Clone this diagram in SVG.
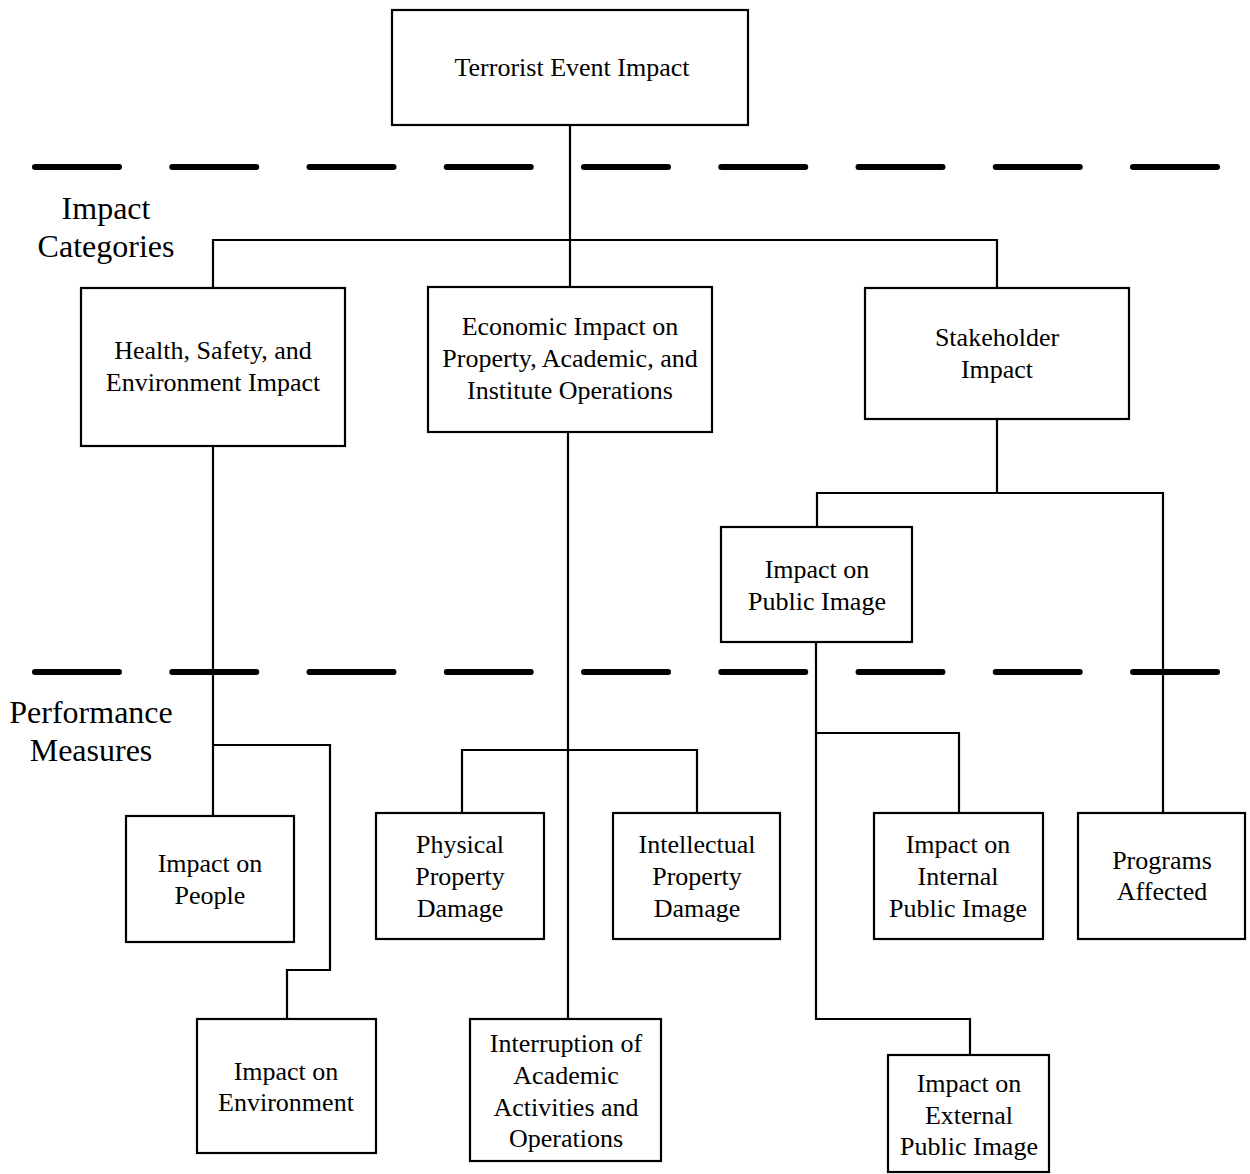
<svg xmlns="http://www.w3.org/2000/svg" width="1250" height="1174" viewBox="0 0 1250 1174">
<style>
.box{fill:#fff;stroke:#000;stroke-width:2.2}
.conn{fill:none;stroke:#000;stroke-width:2.2}
.sep{fill:none;stroke:#000;stroke-width:6;stroke-linecap:round;stroke-dasharray:84 53.25}
.t{font-family:"Liberation Serif","Times New Roman",serif;font-size:26px;fill:#000;text-anchor:middle}
.side{font-family:"Liberation Serif","Times New Roman",serif;font-size:32px;fill:#000;text-anchor:middle}
</style>
<rect width="1250" height="1174" fill="#fff"/>
<g id="separators">
<line class="sep" x1="35" y1="167" x2="1218" y2="167"/>
<line class="sep" x1="35" y1="672" x2="1218" y2="672"/>
</g>
<g id="side-labels">
<text class="side"><tspan x="106" y="219">Impact</tspan><tspan x="106" y="257">Categories</tspan></text>
<text class="side"><tspan x="91" y="723">Performance</tspan><tspan x="91" y="761">Measures</tspan></text>
</g>
<g id="connectors">
<path class="conn" d="M570,125 V287"/>
<path class="conn" d="M213,288 V240 H997 V288"/>
<path class="conn" d="M997,419 V493"/>
<path class="conn" d="M817,527 V493 H1163 V813"/>
<path class="conn" d="M213,446 V816"/>
<path class="conn" d="M213,745 H330 V970 H287 V1019"/>
<path class="conn" d="M568,432 V1019"/>
<path class="conn" d="M462,813 V750 H697 V813"/>
<path class="conn" d="M816,642 V1019 H970 V1055"/>
<path class="conn" d="M816,733 H959 V813"/>
</g>
<g id="node-top">
<rect class="box" x="392" y="10" width="356" height="115"/>
<text class="t" x="572" y="76">Terrorist Event Impact</text>
</g>
<g id="node-hse">
<rect class="box" x="81" y="288" width="264" height="158"/>
<text class="t"><tspan x="213" y="359">Health, Safety, and</tspan><tspan x="213" y="391">Environment Impact</tspan></text>
</g>
<g id="node-econ">
<rect class="box" x="428" y="287" width="284" height="145"/>
<text class="t"><tspan x="570" y="335">Economic Impact on</tspan><tspan x="570" y="367">Property, Academic, and</tspan><tspan x="570" y="399">Institute Operations</tspan></text>
</g>
<g id="node-stakeholder">
<rect class="box" x="865" y="288" width="264" height="131"/>
<text class="t"><tspan x="997" y="346">Stakeholder</tspan><tspan x="997" y="378">Impact</tspan></text>
</g>
<g id="node-public-image">
<rect class="box" x="721" y="527" width="191" height="115"/>
<text class="t"><tspan x="817" y="578">Impact on</tspan><tspan x="817" y="610">Public Image</tspan></text>
</g>
<g id="node-people">
<rect class="box" x="126" y="816" width="168" height="126"/>
<text class="t"><tspan x="210" y="872">Impact on</tspan><tspan x="210" y="904">People</tspan></text>
</g>
<g id="node-environment">
<rect class="box" x="197" y="1019" width="179" height="134"/>
<text class="t"><tspan x="286" y="1080">Impact on</tspan><tspan x="286" y="1111">Environment</tspan></text>
</g>
<g id="node-physical">
<rect class="box" x="376" y="813" width="168" height="126"/>
<text class="t"><tspan x="460" y="853">Physical</tspan><tspan x="460" y="885">Property</tspan><tspan x="460" y="917">Damage</tspan></text>
</g>
<g id="node-intellectual">
<rect class="box" x="613" y="813" width="167" height="126"/>
<text class="t"><tspan x="697" y="853">Intellectual</tspan><tspan x="697" y="885">Property</tspan><tspan x="697" y="917">Damage</tspan></text>
</g>
<g id="node-interruption">
<rect class="box" x="470" y="1019" width="191" height="142"/>
<text class="t"><tspan x="566" y="1052">Interruption of</tspan><tspan x="566" y="1084">Academic</tspan><tspan x="566" y="1116">Activities and</tspan><tspan x="566" y="1147">Operations</tspan></text>
</g>
<g id="node-internal">
<rect class="box" x="874" y="813" width="169" height="126"/>
<text class="t"><tspan x="958" y="853">Impact on</tspan><tspan x="958" y="885">Internal</tspan><tspan x="958" y="917">Public Image</tspan></text>
</g>
<g id="node-programs">
<rect class="box" x="1078" y="813" width="167" height="126"/>
<text class="t"><tspan x="1162" y="869">Programs</tspan><tspan x="1162" y="900">Affected</tspan></text>
</g>
<g id="node-external">
<rect class="box" x="888" y="1055" width="161" height="117"/>
<text class="t"><tspan x="969" y="1092">Impact on</tspan><tspan x="969" y="1124">External</tspan><tspan x="969" y="1155">Public Image</tspan></text>
</g>
</svg>
